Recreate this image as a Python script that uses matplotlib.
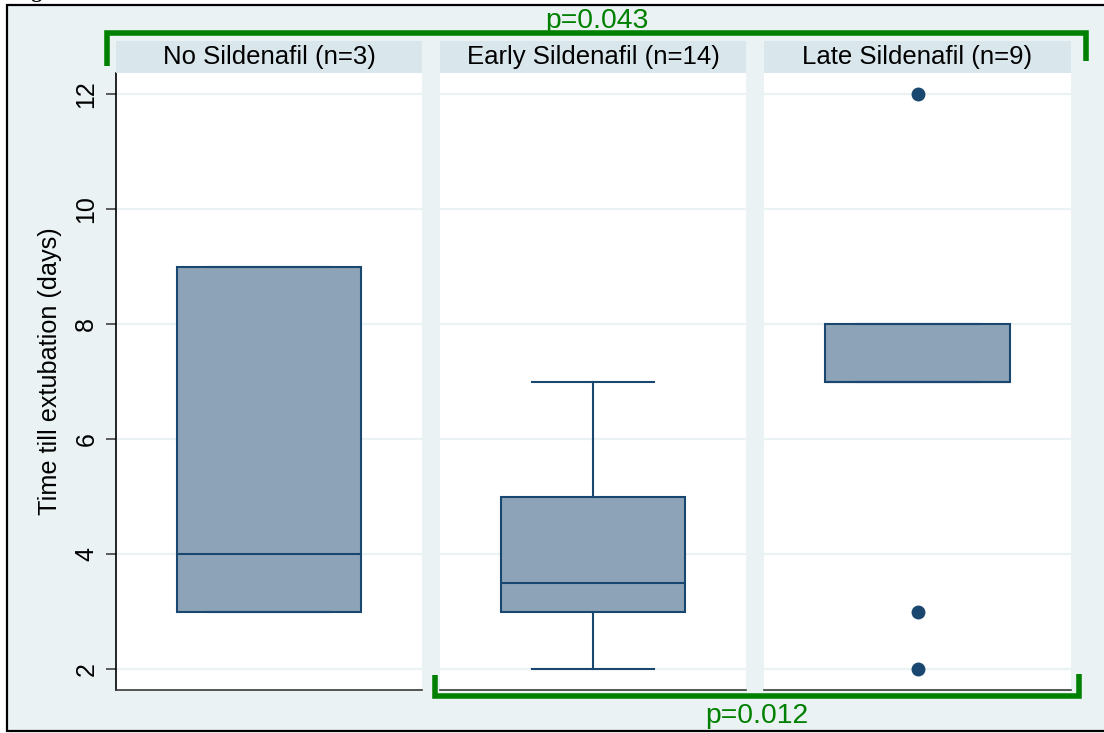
import matplotlib
matplotlib.use("Agg")
import matplotlib.pyplot as plt
from matplotlib.patches import Rectangle
from matplotlib.lines import Line2D

# Box-plot summaries per treatment group
groups = ["No Sildenafil (n=3)", "Early Sildenafil (n=14)", "Late Sildenafil (n=9)"]
q1 = [3, 3, 7]
medians = [4, 3.5, 7]
q3 = [9, 5, 8]
whisker_low = [3, 2, 7]
whisker_high = [9, 7, 8]
outliers = [[], [], [12, 3, 2]]
y_ticks = [2, 4, 6, 8, 10, 12]
y_label = "Time till extubation (days)"
p_all = "p=0.043"
p_early_late = "p=0.012"

BG = "#EAF2F3"
STRIP = "#D9E6EB"
NAVY = "#1A476F"
FILL = "#8DA3B8"
GREEN = "#008000"

plt.rcParams["font.family"] = ["Liberation Sans", "DejaVu Sans"]

W, H = 1104, 733
fig = plt.figure(figsize=(W / 100, H / 100), dpi=100)
fig.patch.set_facecolor("white")


def fx(x):
    return x / W


def fy(y):
    return 1 - y / H


# outer graph region
fig.add_artist(Rectangle((fx(7), fy(731)), fx(1130) - fx(7), fy(5) - fy(731),
                         transform=fig.transFigure, facecolor=BG,
                         edgecolor="black", lw=1.6, zorder=0))

# caption above the frame (only its descender falls inside the canvas)
fig.text(fx(14), fy(-2.5), "Figure", fontfamily="Liberation Serif",
         fontweight="bold", fontsize=15, va="baseline", ha="left")

panel_left = [116, 440, 764]
panel_right = [422, 746, 1071]
top_px, bottom_px, strip_top_px = 72.5, 690, 41

axes = []
for i, name in enumerate(groups):
    l, r = panel_left[i], panel_right[i]
    ax = fig.add_axes([fx(l), fy(bottom_px), fx(r - l), (bottom_px - top_px) / H])
    ax.set_facecolor("white")
    ax.set_xlim(0, 1)
    ax.set_ylim(1.635, 12.374)
    ax.set_yticks(y_ticks)
    ax.yaxis.grid(True, color=BG, lw=1.6)
    ax.set_axisbelow(True)
    ax.set_xticks([])
    for s in ["top", "right"]:
        ax.spines[s].set_visible(False)
    ax.spines["bottom"].set_color("#3a3a3a")
    ax.spines["bottom"].set_linewidth(1.2)
    if i == 0:
        ax.spines["left"].set_color("black")
        ax.spines["left"].set_linewidth(1.2)
        ax.tick_params(axis="y", length=7.2, width=1.1, color="#333333",
                       pad=5.5, labelsize=18, labelrotation=90)
        for lab in ax.get_yticklabels():
            lab.set_va("center")
    else:
        ax.spines["left"].set_visible(False)
        ax.tick_params(axis="y", left=False, labelleft=False)

    stats = [dict(med=medians[i], q1=q1[i], q3=q3[i],
                  whislo=whisker_low[i], whishi=whisker_high[i],
                  fliers=outliers[i])]
    ax.bxp(stats, positions=[0.5], widths=0.6, capwidths=0.4,
           patch_artist=True, manage_ticks=False,
           boxprops=dict(facecolor=FILL, edgecolor=NAVY, linewidth=1.5),
           medianprops=dict(color=NAVY, linewidth=1.5),
           whiskerprops=dict(color=NAVY, linewidth=1.5),
           capprops=dict(color=NAVY, linewidth=1.5),
           flierprops=dict(marker="o", markerfacecolor=NAVY,
                           markeredgecolor=NAVY, markersize=9))
    axes.append(ax)

    # strip header
    fig.add_artist(Rectangle((fx(l), fy(top_px)), fx(r - l), (top_px - strip_top_px) / H,
                             transform=fig.transFigure, facecolor=STRIP,
                             edgecolor="none", zorder=1))
    fig.text(fx((l + r) / 2), fy((top_px + strip_top_px) / 2), name,
             ha="center", va="center", fontsize=18.5, color="black", zorder=2)

fig.text(fx(50), fy(371), y_label, rotation=90, ha="center", va="center",
         fontsize=18.2, color="black")

# significance brackets
top_br = Line2D([fx(106.5), fx(106.5), fx(1085.5), fx(1085.5)],
                [fy(66), fy(33), fy(33), fy(61)],
                transform=fig.transFigure, color=GREEN, lw=4,
                solid_joinstyle="miter", solid_capstyle="butt", zorder=5)
bot_br = Line2D([fx(435), fx(435), fx(1078.5), fx(1078.5)],
                [fy(675), fy(695.5), fy(695.5), fy(674)],
                transform=fig.transFigure, color=GREEN, lw=4,
                solid_joinstyle="miter", solid_capstyle="butt", zorder=5)
fig.add_artist(top_br)
fig.add_artist(bot_br)

fig.text(fx(596.5), fy(28), p_all, ha="center", va="baseline",
         fontsize=20.4, color=GREEN)
fig.text(fx(757), fy(723), p_early_late, ha="center", va="baseline",
         fontsize=20.4, color=GREEN)

fig.savefig("out.png", dpi=100, facecolor=fig.get_facecolor())
